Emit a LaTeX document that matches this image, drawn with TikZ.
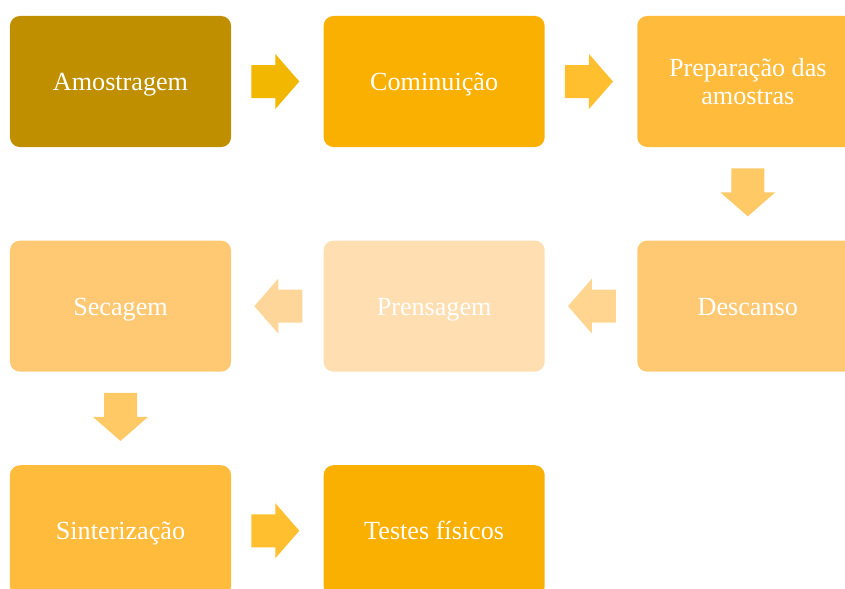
\documentclass[tikz,border=0pt]{standalone}
\usepackage{fontspec}
\setmainfont{Liberation Serif}
\usepackage{tikz}
\usetikzlibrary{calc,positioning}
\definecolor{gold1}{HTML}{BF8F00}
\definecolor{gold2}{HTML}{F9B000}
\definecolor{gold3}{HTML}{FFBB3B}
\definecolor{gold4}{HTML}{FFC974}
\definecolor{gold5}{HTML}{FFDEB1}
\definecolor{arrowA}{HTML}{F2B700}
\definecolor{arrowB}{HTML}{FFBF2E}
\definecolor{arrowC}{HTML}{FFC966}
\definecolor{arrowD}{HTML}{FFD590}
\definecolor{arrowE}{HTML}{FFD699}
\tikzset{
    stepbox/.style={
        rectangle,
        rounded corners=7pt,
        minimum width=5.525cm,
        minimum height=3.275cm,
        inner sep=0pt,
        align=center,
        text=white,
        font=\fontsize{18.6}{19.8}\selectfont
    },
    % uma linha: mesma altura de texto em todas as caixas
    oneline/.style={stepbox,text height=12.7pt,text depth=0pt},
    % seta larga entre as caixas
    blockarrow/.pic={
        \fill[pic actions] (-24,-16.5) -- (0,-16.5) -- (0,-27.5) -- (24,0)
        -- (0,27.5) -- (0,16.5) -- (-24,16.5) -- cycle;
    }
}

\begin{document}
\begin{tikzpicture}[x=0.025cm,y=-0.025cm]
    \useasboundingbox (0,0) rectangle (845,588);

    % caixas
    \node[oneline,fill=gold1] (amos) at (120.5,81.5) {Amostragem};
    \node[oneline,fill=gold2,right=2.3cm of amos] (comi) {Cominuição};
    \node[stepbox,fill=gold3,right=2.3cm of comi] (prep) {Preparação das\\amostras};
    \node[oneline,fill=gold4,below=2.325cm of prep] (desc) {Descanso};
    \node[oneline,fill=gold5,left=2.3cm of desc] (pren) {Prensagem};
    \node[oneline,fill=gold4,left=2.3cm of pren] (seca) {Secagem};
    \node[oneline,fill=gold3,below=2.325cm of seca] (sint) {Sinterização};
    \node[oneline,fill=gold2,right=2.3cm of sint] (test) {Testes físicos};

    % setas
    \pic[fill=arrowA] at ($(amos.east)!0.5!(comi.west)+(-2,0)$) {blockarrow};
    \pic[fill=arrowB] at ($(comi.east)!0.5!(prep.west)+(-2,0)$) {blockarrow};
    \pic[fill=arrowC,rotate=-90] at ($(prep.south)!0.5!(desc.north)+(0,-1.5)$) {blockarrow};
    \pic[fill=arrowD,rotate=180] at ($(desc.west)!0.5!(pren.east)+(1,0)$) {blockarrow};
    \pic[fill=arrowE,rotate=180] at ($(pren.west)!0.5!(seca.east)+(1,0)$) {blockarrow};
    \pic[fill=arrowC,rotate=-90] at ($(seca.south)!0.5!(sint.north)+(0,-1.5)$) {blockarrow};
    \pic[fill=arrowB] at ($(sint.east)!0.5!(test.west)+(-2,0)$) {blockarrow};
\end{tikzpicture}
\end{document}
